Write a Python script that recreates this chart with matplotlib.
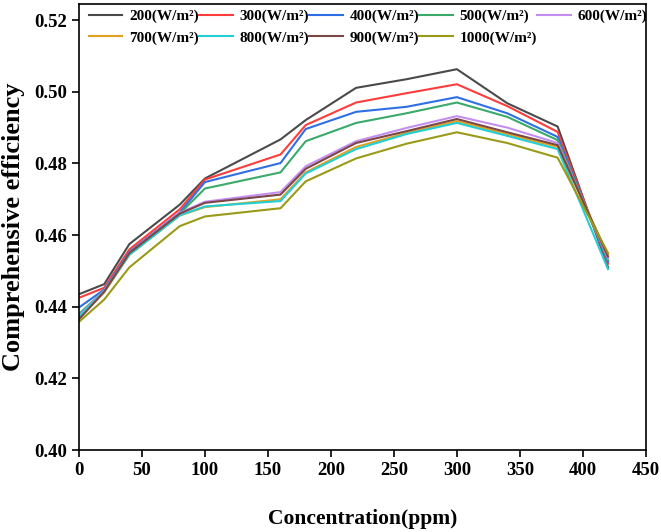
import matplotlib
matplotlib.use('Agg')
import matplotlib.pyplot as plt

plt.rcParams['font.family'] = ['Liberation Serif', 'DejaVu Serif']
plt.rcParams['font.weight'] = 'bold'

conc = [0, 20, 40, 80, 100, 160, 180, 220, 260, 300, 340, 380, 420]

eff_200 = [0.4435, 0.4463, 0.4575, 0.4685, 0.4758, 0.4867, 0.4921, 0.5011, 0.5035, 0.5063, 0.4968, 0.4903, 0.4510]
eff_300 = [0.4425, 0.4453, 0.4560, 0.4672, 0.4755, 0.4825, 0.4907, 0.4970, 0.4996, 0.5021, 0.4960, 0.4888, 0.4520]
eff_400 = [0.4398, 0.4448, 0.4553, 0.4663, 0.4748, 0.4801, 0.4896, 0.4944, 0.4958, 0.4985, 0.4940, 0.4874, 0.4525]
eff_500 = [0.4380, 0.4445, 0.4550, 0.4660, 0.4730, 0.4775, 0.4862, 0.4913, 0.4940, 0.4970, 0.4930, 0.4865, 0.4530]
eff_600 = [0.4375, 0.4445, 0.4550, 0.4662, 0.4693, 0.4720, 0.4792, 0.4862, 0.4899, 0.4932, 0.4900, 0.4857, 0.4535]
eff_700 = [0.4370, 0.4440, 0.4545, 0.4655, 0.4678, 0.4700, 0.4775, 0.4846, 0.4885, 0.4918, 0.4882, 0.4846, 0.4545]
eff_800 = [0.4372, 0.4443, 0.4545, 0.4655, 0.4680, 0.4695, 0.4772, 0.4840, 0.4882, 0.4913, 0.4877, 0.4840, 0.4505]
eff_900 = [0.4365, 0.4442, 0.4550, 0.4660, 0.4690, 0.4713, 0.4785, 0.4857, 0.4890, 0.4924, 0.4887, 0.4851, 0.4540]
eff_1000 = [0.4358, 0.4420, 0.4510, 0.4625, 0.4652, 0.4675, 0.4750, 0.4814, 0.4855, 0.4887, 0.4857, 0.4816, 0.4550]

labels = ['200(W/m²)', '300(W/m²)', '400(W/m²)', '500(W/m²)', '600(W/m²)',
          '700(W/m²)', '800(W/m²)', '900(W/m²)', '1000(W/m²)']
series = [eff_200, eff_300, eff_400, eff_500, eff_600, eff_700, eff_800, eff_900, eff_1000]
colors = ['#4a4a4a', '#ff3c3c', '#2f6fe6', '#3aaa6a', '#c38ef0',
          '#e0a21e', '#22cfd6', '#7a4646', '#9a9a18']

fig = plt.figure(figsize=(6.61, 5.32), dpi=100)
ax = fig.add_axes([0.1195, 0.154, 0.8575, 0.8385])

lines = []
for y, c, lb in zip(series, colors, labels):
    ln, = ax.plot(conc, y, color=c, lw=1.5, label=lb)
    lines.append(ln)

ax.set_xlim(0, 450)
ax.set_ylim(0.40, 0.5245)
ax.set_xticks(range(0, 451, 50))
ax.set_yticks([0.40, 0.42, 0.44, 0.46, 0.48, 0.50, 0.52])
ax.yaxis.set_major_formatter(plt.FuncFormatter(lambda v, p: f"{v:.2f}"))
ax.tick_params(direction='out', length=5, width=1.2, labelsize=13.5)
for lbl in ax.get_xticklabels() + ax.get_yticklabels():
    lbl.set_fontweight('bold')
for s in ax.spines.values():
    s.set_linewidth(1.2)

ax.set_xlabel('Concentration(ppm)', fontsize=15.5, fontweight='bold', labelpad=22)
ax.set_ylabel('Comprehensive efficiency', fontsize=19, fontweight='bold', labelpad=7)

# row-wise legend order: 200..600 on top, 700..1000 below
order = [0, 5, 1, 6, 2, 7, 3, 8, 4]
leg = ax.legend([lines[i] for i in order], [labels[i] for i in order],
                ncol=5, loc='upper left', bbox_to_anchor=(0.012, 0.995),
                frameon=False, fontsize=11, handlelength=2.2,
                columnspacing=0.0, handletextpad=0.45, labelspacing=0.5,
                borderaxespad=0.0, borderpad=0.2)
for t in leg.get_texts():
    t.set_fontweight('bold')

fig.savefig('out.png', dpi=100)
